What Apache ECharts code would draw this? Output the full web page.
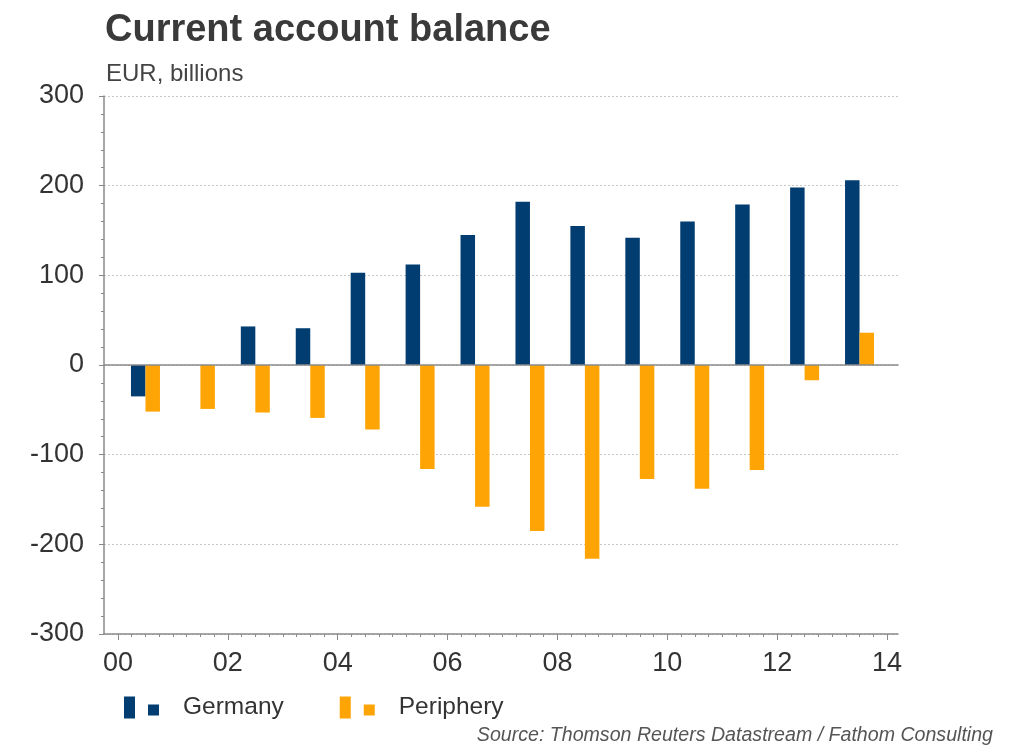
<!DOCTYPE html>
<html>
<head>
<meta charset="utf-8">
<script src="https://cdn.jsdelivr.net/npm/echarts@6/dist/echarts.min.js"></script>
<style>
  html, body { margin: 0; padding: 0; background: #fff; }
  #chart { width: 1019px; height: 748px; }
</style>
</head>
<body>
<div id="chart"></div>
<script>
// Current account balance, EUR billions, 2000-2013
const years = ['2000','2001','2002','2003','2004','2005','2006','2007','2008','2009','2010','2011','2012','2013'];
const germany   = [-35, 0, 43, 41, 103, 112, 145, 182, 155, 142, 160, 179, 198, 206];
const periphery = [-52, -49, -53, -59, -72, -116, -158, -185, -216, -127, -138, -117, -17, 36];
const yearTickLabels = ['00', '02', '04', '06', '08', '10', '12', '14'];

const FONT = '"Liberation Sans", Arial, sans-serif';
const TEXT = '#333';
const AXIS = '#8a8a8a';

const chart = echarts.init(document.getElementById('chart'), null, { renderer: 'canvas' });

chart.setOption({
  animation: false,
  backgroundColor: '#fff',
  textStyle: { fontFamily: FONT },
  title: [
    { text: 'Current account balance', left: 100, top: 7,
      textStyle: { fontFamily: FONT, fontSize: 38, fontWeight: 'bold', color: '#3a3a3a' } },
    { text: 'EUR, billions', left: 101, top: 57,
      textStyle: { fontFamily: FONT, fontSize: 24, fontWeight: 'normal', color: '#444' } },
    { text: 'Source: Thomson Reuters Datastream / Fathom Consulting', right: 21, top: 721,
      textStyle: { fontFamily: FONT, fontSize: 19.6, fontStyle: 'italic', fontWeight: 'normal', color: '#555' } }
  ],
  legend: {
    left: 119, top: 690,
    itemWidth: 35, itemHeight: 22, itemGap: 56,
    icon: 'path://M0,0 h11 v22 h-11 z M24,8 h11 v11 h-11 z',
    textStyle: { fontFamily: FONT, fontSize: 24.5, color: TEXT, padding: [0, 0, 0, 19] },
    data: ['Germany', 'Periphery']
  },
  grid: [
    // frame: y axis, gridlines, bottom axis line and zero line
    { left: 104, right: 121, top: 96, bottom: 114 },
    // bars and year ticks
    { left: 118, right: 132, top: 96, bottom: 114 }
  ],
  xAxis: [
    { gridIndex: 0, type: 'value', min: 0, max: 1, position: 'bottom',
      axisLine: { show: true, onZero: false, lineStyle: { color: AXIS, width: 1.5 } },
      axisTick: { show: false }, axisLabel: { show: false }, splitLine: { show: false } },
    { gridIndex: 0, type: 'value', min: 0, max: 1, position: 'bottom', z: 5,
      axisLine: { show: true, onZero: true, lineStyle: { color: AXIS, width: 1.5 } },
      axisTick: { show: false }, axisLabel: { show: false }, splitLine: { show: false } },
    { gridIndex: 1, type: 'category', data: years, boundaryGap: true, position: 'bottom',
      axisLine: { show: false, onZero: false }, axisTick: { show: false },
      axisLabel: { show: false }, splitLine: { show: false } },
    { gridIndex: 1, type: 'value', min: 0, max: 14, interval: 2, position: 'bottom',
      axisLine: { show: false, onZero: false },
      axisTick: { show: true, length: 6, lineStyle: { color: AXIS } },
      minorTick: { show: true, splitNumber: 8, length: 3, lineStyle: { color: AXIS } },
      axisLabel: { show: true, margin: 16, fontSize: 27, color: TEXT, fontFamily: FONT,
        formatter: v => yearTickLabels[Math.round(v / 2)] },
      splitLine: { show: false } }
  ],
  yAxis: [
    { gridIndex: 0, type: 'value', min: -300, max: 300, interval: 100,
      axisLine: { show: true, lineStyle: { color: AXIS, width: 1.5 } },
      axisTick: { show: true, length: 5, lineStyle: { color: AXIS } },
      minorTick: { show: true, splitNumber: 5, length: 3, lineStyle: { color: AXIS } },
      axisLabel: { margin: 20, fontSize: 27, color: TEXT, fontFamily: FONT },
      splitLine: { show: true, lineStyle: { color: '#c8c8c8', type: [2, 2], width: 1 } } },
    { gridIndex: 1, type: 'value', min: -300, max: 300, interval: 100, show: false,
      splitLine: { show: false } }
  ],
  series: [
    { name: 'Germany', type: 'bar', xAxisIndex: 2, yAxisIndex: 1,
      data: germany, barWidth: 14.5, barGap: '0%',
      itemStyle: { color: '#023d72' } },
    { name: 'Periphery', type: 'bar', xAxisIndex: 2, yAxisIndex: 1,
      data: periphery, barWidth: 14.5, barGap: '0%',
      itemStyle: { color: '#ffa405' } }
  ]
});
</script>
</body>
</html>
